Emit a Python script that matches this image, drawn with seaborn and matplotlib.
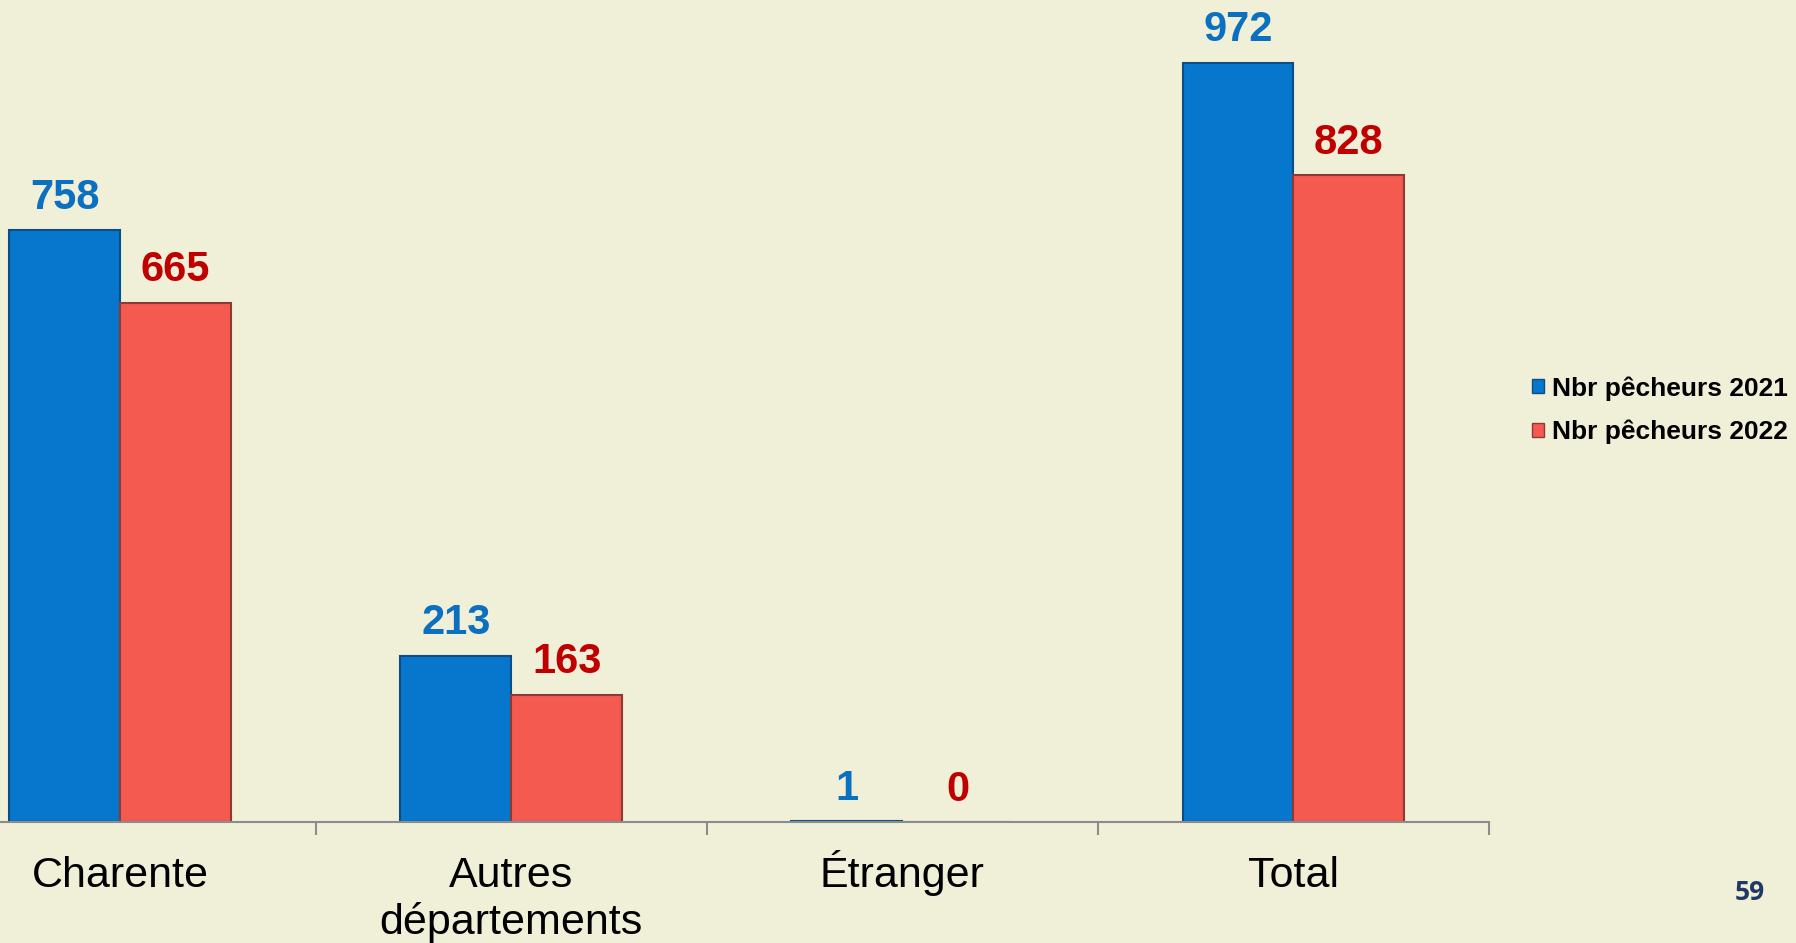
import matplotlib
matplotlib.use("Agg")
import matplotlib.pyplot as plt
from matplotlib.patches import Patch
from matplotlib.transforms import ScaledTranslation
import seaborn as sns
import pandas as pd

categories = ["Charente", "Autres\ndépartements", "Étranger", "Total"]
series = ["Nbr pêcheurs 2021", "Nbr pêcheurs 2022"]
values_2021 = [758, 213, 1, 972]
values_2022 = [665, 163, 0, 828]

bar_colors = {"Nbr pêcheurs 2021": "#0677CC", "Nbr pêcheurs 2022": "#F45A50"}
edge_colors = {"Nbr pêcheurs 2021": "#0B4E86", "Nbr pêcheurs 2022": "#8E3A34"}
label_colors = {"Nbr pêcheurs 2021": "#0B70C0", "Nbr pêcheurs 2022": "#C00000"}
bg = "#F0EFD8"

sns.set_style("white")
plt.rcParams["font.family"] = ["Liberation Sans", "DejaVu Sans"]

df = pd.DataFrame({
    "categorie": categories * 2,
    "serie": [series[0]] * 4 + [series[1]] * 4,
    "valeur": values_2021 + values_2022,
})

fig = plt.figure(figsize=(17.96, 9.43), dpi=100, facecolor=bg)
ax = fig.add_axes([-0.0421, 0.1283, 0.8712, 0.8282])
ax.set_facecolor(bg)

sns.barplot(data=df, x="categorie", y="valeur", hue="serie", order=categories,
            hue_order=series, palette=bar_colors, width=0.567, saturation=1,
            legend=False, ax=ax)

for cont, name in zip(ax.containers, series):
    for bar in cont:
        bar.set_edgecolor(edge_colors[name])
        bar.set_linewidth(1.5)
    ax.bar_label(cont, labels=[f"{v:.0f}" for v in cont.datavalues], padding=9,
                 fontsize=30, fontweight="bold", color=label_colors[name])

ax.set_xlim(-0.5, 3.5)
ax.set_ylim(0, 1000)
ax.set_xlabel("")
ax.set_ylabel("")
ax.set_yticks([])
for side in ["top", "right", "left"]:
    ax.spines[side].set_visible(False)
ax.spines["bottom"].set_color("#8C8C8C")
ax.spines["bottom"].set_linewidth(1.5)

ax.set_xticks(range(len(categories)))
ax.set_xticklabels(categories, va="baseline", linespacing=1.2)
ax.set_xticks([0.5, 1.5, 2.5, 3.5], minor=True)
ax.tick_params(axis="x", which="major", bottom=True, length=0, pad=47,
               labelsize=31, labelcolor="black")
ax.tick_params(axis="x", which="minor", bottom=True, length=9, width=1.5,
               color="#8C8C8C", direction="out")

# multi-line label: baseline refers to the last line, push it down one line
for lab in ax.get_xticklabels():
    if "\n" in lab.get_text():
        lab.set_transform(lab.get_transform() + ScaledTranslation(0, -0.467, fig.dpi_scale_trans))

handles = [Patch(facecolor=bar_colors[s], edgecolor=edge_colors[s]) for s in series]
leg = fig.legend(handles, series, loc="center left", bbox_to_anchor=(0.840, 0.565),
                 frameon=False, handlelength=0.45, handleheight=0.45, handletextpad=0.3,
                 labelspacing=0.72, prop={"weight": "bold", "size": 19})
for t in leg.get_texts():
    t.set_color("black")

fig.text(0.9745, 0.054, "59", fontsize=19, fontweight="bold", color="#1F3864",
         family=["Open Sans", "DejaVu Sans"], ha="center", va="center")

fig.savefig("out.png", dpi=100, facecolor=bg)
